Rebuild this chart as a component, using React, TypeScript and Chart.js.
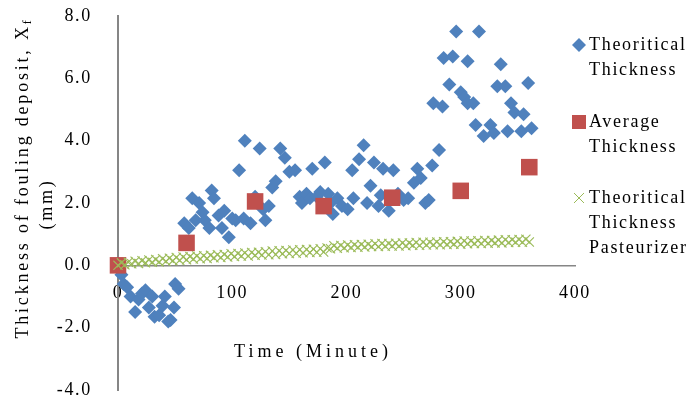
import React, { useEffect, useRef } from "react";
import { Chart, registerables } from "chart.js";

Chart.register(...registerables);

const blueMinutes = [0, 3, 5, 8, 11, 15, 18, 21, 24, 27, 30, 32, 36, 39, 41, 44, 46, 49, 50, 53,
  58, 62, 65, 68, 71, 74, 76, 80, 82, 84, 88, 91, 93, 97, 100, 103, 106, 110, 111, 116,
  120, 124, 127, 129, 132, 135, 138, 142, 146, 150, 155, 159, 161, 165, 168, 170, 174, 177, 181, 184,
  186, 188, 192, 196, 201, 205, 206, 211, 215, 218, 221, 224, 228, 230, 232, 237, 241, 245, 250, 254,
  259, 262, 265, 269, 272, 275, 276, 281, 284, 285, 290, 293, 296, 300, 303, 306, 306, 311, 313, 316,
  320, 326, 329, 332, 335, 339, 341, 344, 347, 353, 355, 359, 362];
const blueValues = [-0.05, -0.3, -0.6, -0.7, -1.0, -1.5, -1.1, -0.9, -0.8, -1.35, -1.0, -1.65, -1.6, -1.3, -1.0, -1.8, -1.75, -1.35, -0.6, -0.75,
  1.35, 1.2, 2.15, 1.45, 2.0, 1.7, 1.45, 1.2, 2.4, 2.15, 1.6, 1.2, 1.75, 0.9, 1.5, 1.45, 3.05, 1.5, 4.0, 1.35,
  2.2, 3.75, 1.8, 1.45, 1.9, 2.5, 2.7, 3.75, 3.45, 3.0, 3.05, 2.2, 2.0, 2.3, 2.15, 3.1, 2.2, 2.35, 3.3, 2.3,
  2.0, 1.65, 2.15, 1.9, 1.8, 3.05, 2.15, 3.4, 3.85, 2.0, 2.55, 3.3, 1.9, 2.25, 3.1, 1.75, 3.05, 2.3, 2.1, 2.15,
  2.65, 3.1, 2.8, 2.0, 2.1, 3.2, 5.2, 3.7, 5.1, 6.65, 5.8, 6.7, 7.5, 5.55, 5.4, 5.2, 6.55, 5.2, 4.5, 7.5,
  4.15, 4.5, 4.25, 5.75, 6.45, 5.75, 4.3, 5.2, 4.9, 4.3, 4.85, 5.85, 4.4];

const redMinutes = [0, 60, 120, 180, 240, 300, 360];
const redValues = [0.0, 0.72, 2.05, 1.9, 2.17, 2.39, 3.15];

const greenMinutes = [0, 3, 6, 9, 12, 15, 18, 21, 24, 27, 30, 33, 36, 39, 42, 45, 48, 51, 54, 57,
  60, 63, 66, 69, 72, 75, 78, 81, 84, 87, 90, 93, 96, 99, 102, 105, 108, 111, 114, 117,
  120, 123, 126, 129, 132, 135, 138, 141, 144, 147, 150, 153, 156, 159, 162, 165, 168, 171, 174, 177,
  180, 183, 186, 189, 192, 195, 198, 201, 204, 207, 210, 213, 216, 219, 222, 225, 228, 231, 234, 237,
  240, 243, 246, 249, 252, 255, 258, 261, 264, 267, 270, 273, 276, 279, 282, 285, 288, 291, 294, 297,
  300, 303, 306, 309, 312, 315, 318, 321, 324, 327, 330, 333, 336, 339, 342, 345, 348, 351, 354, 357, 360];
const greenValues = [0.0, 0.08, 0.02, 0.1, 0.05, 0.13, 0.06, 0.15, 0.08, 0.17, 0.1, 0.19, 0.11, 0.21, 0.13, 0.23, 0.15, 0.25, 0.16, 0.27,
  0.18, 0.28, 0.2, 0.3, 0.21, 0.31, 0.22, 0.32, 0.24, 0.34, 0.25, 0.35, 0.27, 0.37, 0.28, 0.38, 0.3, 0.4, 0.3, 0.41,
  0.32, 0.42, 0.33, 0.44, 0.34, 0.46, 0.35, 0.47, 0.37, 0.48, 0.38, 0.49, 0.39, 0.5, 0.4, 0.51, 0.41, 0.52, 0.42, 0.53,
  0.43, 0.56, 0.53, 0.63, 0.55, 0.64, 0.56, 0.65, 0.57, 0.66, 0.58, 0.67, 0.59, 0.68, 0.6, 0.69, 0.6, 0.7, 0.61, 0.7,
  0.62, 0.71, 0.62, 0.72, 0.63, 0.72, 0.64, 0.73, 0.64, 0.74, 0.65, 0.74, 0.66, 0.75, 0.66, 0.76, 0.67, 0.76, 0.68, 0.77,
  0.68, 0.78, 0.69, 0.78, 0.7, 0.79, 0.7, 0.8, 0.71, 0.8, 0.72, 0.81, 0.72, 0.82, 0.73, 0.82, 0.74, 0.83, 0.74, 0.84, 0.75];

const seriesNames = [["Theoritical", "Thickness"], ["Average", "Thickness"], ["Theoritical", "Thickness", "Pasteurizer"]];
const yTitleMain = "Thickness of fouling deposit, X";
const yTitleSub = "f";
const yTitleSecond = "(mm)";
const xTitle = "Time (Minute)";
const yTicksStep = 2;
const xTicksStep = 100;

const BLUE = "#4F81BD";
const RED = "#C0504D";
const GREEN = "#9BBB59";
const FONT = "'Liberation Serif', 'Times New Roman', serif";
const LS = "1.7px";
const TITLE_LS = "2.8px";
const XTITLE_LS = "4px";

const toPoints = (xs: number[], ys: number[]) => xs.map((x, i) => ({ x, y: ys[i] }));

const decorPlugin = {
  id: "decor",
  beforeDraw(chart: any) {
    (chart.ctx as any).letterSpacing = LS;
  },
  afterDraw(chart: any) {
    const ctx = chart.ctx as CanvasRenderingContext2D;
    ctx.save();
    ctx.fillStyle = "#000";
    ctx.textBaseline = "middle";
    // Y title
    (ctx as any).letterSpacing = TITLE_LS;
    ctx.font = `18px ${FONT}`;
    const wMain = ctx.measureText(yTitleMain).width;
    ctx.font = `12px ${FONT}`;
    const wSub = ctx.measureText(yTitleSub).width;
    const total = wMain + wSub;
    ctx.save();
    ctx.translate(23, 178);
    ctx.rotate(-Math.PI / 2);
    ctx.textAlign = "left";
    ctx.font = `18px ${FONT}`;
    ctx.fillText(yTitleMain, -total / 2, 0);
    ctx.font = `12px ${FONT}`;
    ctx.fillText(yTitleSub, -total / 2 + wMain, 5);
    ctx.restore();
    ctx.save();
    ctx.translate(47, 204);
    ctx.rotate(-Math.PI / 2);
    ctx.textAlign = "center";
    ctx.font = `18px ${FONT}`;
    ctx.fillText(yTitleSecond, 0, 0);
    ctx.restore();
    // X title
    (ctx as any).letterSpacing = XTITLE_LS;
    ctx.textAlign = "center";
    ctx.font = `18px ${FONT}`;
    ctx.fillText(xTitle, 313, 352);
    // Legend
    (ctx as any).letterSpacing = LS;
    const rows = [45, 122, 198];
    const mx = 579;
    const tx = 589;
    ctx.textAlign = "left";
    seriesNames.forEach((lines, i) => {
      const cy = rows[i];
      ctx.save();
      if (i === 0) {
        ctx.fillStyle = BLUE;
        ctx.beginPath();
        ctx.moveTo(mx, cy - 7);
        ctx.lineTo(mx + 7, cy);
        ctx.lineTo(mx, cy + 7);
        ctx.lineTo(mx - 7, cy);
        ctx.closePath();
        ctx.fill();
      } else if (i === 1) {
        ctx.fillStyle = RED;
        ctx.fillRect(mx - 7, cy - 7, 14, 14);
      } else {
        ctx.strokeStyle = GREEN;
        ctx.lineWidth = 1;
        ctx.beginPath();
        ctx.moveTo(mx - 5, cy - 5);
        ctx.lineTo(mx + 5, cy + 5);
        ctx.moveTo(mx + 5, cy - 5);
        ctx.lineTo(mx - 5, cy + 5);
        ctx.stroke();
      }
      ctx.restore();
      lines.forEach((t, j) => {
        ctx.fillText(t, tx, cy + j * 25);
      });
    });
    ctx.restore();
  },
};

export default function App() {
  const ref = useRef<HTMLCanvasElement | null>(null);
  useEffect(() => {
    if (!ref.current) return;
    Chart.defaults.font.family = FONT;
    Chart.defaults.font.size = 18;
    Chart.defaults.color = "#000";
    const chart = new Chart(ref.current, {
      type: "scatter",
      data: {
        datasets: [
          {
            label: seriesNames[0].join(" "),
            data: toPoints(blueMinutes, blueValues),
            pointStyle: "rectRot",
            pointRadius: 7,
            backgroundColor: BLUE,
            borderColor: BLUE,
            borderWidth: 0,
            order: 3,
            clip: false,
          },
          {
            label: seriesNames[1].join(" "),
            data: toPoints(redMinutes, redValues),
            pointStyle: "rect",
            pointRadius: 11.7,
            backgroundColor: RED,
            borderColor: RED,
            borderWidth: 0,
            order: 2,
            clip: false,
          },
          {
            label: seriesNames[2].join(" "),
            data: toPoints(greenMinutes, greenValues),
            pointStyle: "crossRot",
            pointRadius: 6.5,
            backgroundColor: GREEN,
            borderColor: GREEN,
            borderWidth: 1.1,
            order: 1,
            clip: false,
          },
        ],
      },
      options: {
        animation: false,
        responsive: false,
        devicePixelRatio: 1,
        layout: { autoPadding: false, padding: { left: 0, right: 116, top: 16, bottom: 11 } },
        plugins: { legend: { display: false }, tooltip: { enabled: false } },
        scales: {
          x: {
            type: "linear",
            min: 0,
            max: 400,
            position: { y: 0 } as any,
            grid: { display: false },
            border: { display: true, color: "#868686", width: 1.5 },
            ticks: { stepSize: xTicksStep, padding: 9, font: { size: 18 }, color: "#000" },
            afterFit: (scale: any) => {
              scale.height = 0;
              scale.paddingLeft = 0;
              scale.paddingRight = 0;
              scale.paddingTop = 0;
              scale.paddingBottom = 0;
            },
          },
          y: {
            type: "linear",
            min: -4,
            max: 8,
            grid: { display: false },
            border: { display: true, color: "#868686", width: 2 },
            ticks: {
              stepSize: yTicksStep,
              padding: 18,
              font: { size: 18 },
              color: "#000",
              callback: (v: any) => Number(v).toFixed(1),
            },
            afterFit: (scale: any) => {
              scale.width = 118;
              scale.paddingTop = 0;
              scale.paddingBottom = 0;
              scale.paddingLeft = 0;
              scale.paddingRight = 0;
            },
          },
        },
      },
      plugins: [decorPlugin],
    });
    return () => chart.destroy();
  }, []);
  return (
    <div style={{ position: "absolute", left: 0, top: 0, width: 691, height: 401, background: "#fff" }}>
      <canvas ref={ref} width={691} height={401} style={{ width: 691, height: 401, display: "block" }} />
    </div>
  );
}
